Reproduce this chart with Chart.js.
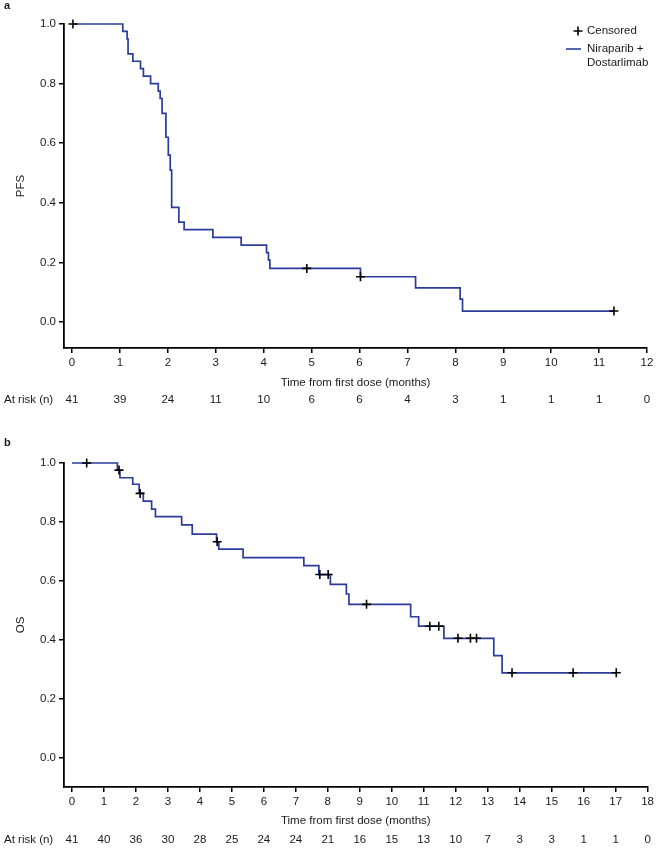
<!DOCTYPE html>
<html>
<head>
<meta charset="utf-8">
<script src="https://cdn.jsdelivr.net/npm/chart.js@4.4.1/dist/chart.umd.min.js"></script>
<style>
    html, body { margin: 0; padding: 0; background: #fff; }
    #wrap { position: relative; width: 657px; height: 849px; }
    .panel { position: absolute; left: 0; width: 657px; }
    #pa { top: 0; height: 412px; }
    #pb { top: 412px; height: 437px; }
</style>
</head>
<body>
<div id="wrap">
    <div class="panel" id="pa"><canvas id="pfsChart" width="657" height="412"></canvas></div>
    <div class="panel" id="pb"><canvas id="osChart" width="657" height="437"></canvas></div>
</div>
<script>
// === DATA ===
// a: PFS step curve (time in months, survival after the step)
const pfsTimes = [0, 1.06, 1.15, 1.17, 1.27, 1.43, 1.49, 1.64, 1.80, 1.84, 1.88, 1.96, 2.01, 2.05, 2.08, 2.23, 2.34, 2.94, 3.53, 4.06, 4.10, 4.13, 6.02, 7.17, 8.10, 8.15, 11.31];
const pfsSurv = [1, 0.975, 0.95, 0.90, 0.875, 0.85, 0.825, 0.80, 0.775, 0.75, 0.70, 0.62, 0.56, 0.51, 0.385, 0.335, 0.31, 0.284, 0.258, 0.233, 0.208, 0.18, 0.152, 0.115, 0.077, 0.037, 0.037];
const pfsCensorTimes = [0.02, 4.90, 6.02, 11.31];
const pfsCensorSurv = [1, 0.18, 0.152, 0.037];
const pfsTicks = [0, 1, 2, 3, 4, 5, 6, 7, 8, 9, 10, 11, 12];
const pfsAtRisk = [41, 39, 24, 11, 10, 6, 6, 4, 3, 1, 1, 1, 0];

// b: OS step curve
const osTimes = [0, 1.42, 1.50, 1.90, 2.10, 2.23, 2.49, 2.61, 3.43, 3.76, 4.52, 4.59, 5.35, 7.25, 7.72, 8.08, 8.58, 8.66, 10.59, 10.84, 11.63, 13.19, 13.45, 17.02];
const osSurv = [1, 0.976, 0.95, 0.928, 0.897, 0.871, 0.844, 0.818, 0.79, 0.759, 0.733, 0.708, 0.679, 0.652, 0.622, 0.589, 0.556, 0.521, 0.479, 0.447, 0.406, 0.347, 0.289, 0.289];
const osCensorTimes = [0.46, 1.47, 2.13, 4.54, 7.75, 8.01, 9.21, 11.19, 11.47, 12.07, 12.46, 12.65, 13.76, 15.67, 17.02];
const osCensorSurv = [1, 0.976, 0.897, 0.733, 0.622, 0.622, 0.521, 0.447, 0.447, 0.406, 0.406, 0.406, 0.289, 0.289, 0.289];
const osTicks = [0, 1, 2, 3, 4, 5, 6, 7, 8, 9, 10, 11, 12, 13, 14, 15, 16, 17, 18];
const osAtRisk = [41, 40, 36, 30, 28, 25, 24, 24, 21, 16, 15, 13, 10, 7, 3, 3, 1, 1, 0];

const yTicks = [0, 0.2, 0.4, 0.6, 0.8, 1.0];

// === STYLE ===
const FONT = "'Liberation Sans', Arial, Helvetica, sans-serif";
const BLUE = "#2b3c9b";
const TEXT = "#1a1a1a";

// Extra text: panel letter, at-risk row, legend
const kmText = {
    id: "kmText",
    afterDraw(chart, args, o) {
        const ctx = chart.ctx;
        const xs = chart.scales.x;
        ctx.save();
        ctx.fillStyle = TEXT;
        ctx.textBaseline = "middle";

        ctx.font = `bold 11px ${FONT}`;
        ctx.textAlign = "left";
        ctx.fillText(o.letter, 4, o.letterY);

        ctx.font = `11.5px ${FONT}`;
        ctx.fillText("At risk (n)", 4, o.riskY);
        ctx.textAlign = "center";
        o.ticks.forEach((t, i) => ctx.fillText(String(o.atRisk[i]), xs.getPixelForValue(t), o.riskY));

        if (o.legend) {
            ctx.textAlign = "left";
            // censor mark
            ctx.strokeStyle = "#000";
            ctx.lineWidth = 1.6;
            ctx.beginPath();
            ctx.moveTo(573.5, 31); ctx.lineTo(582.5, 31);
            ctx.moveTo(578, 26.5); ctx.lineTo(578, 35.5);
            ctx.stroke();
            ctx.fillText("Censored", 587, 31);
            // line sample
            ctx.strokeStyle = BLUE;
            ctx.beginPath();
            ctx.moveTo(566, 49); ctx.lineTo(581, 49);
            ctx.stroke();
            ctx.fillText("Niraparib +", 587, 49);
            ctx.fillText("Dostarlimab", 587, 63);
        }
        ctx.restore();
    },
};

function kmChart(id, cfg) {
    const line = cfg.times.map((t, i) => ({ x: t, y: cfg.surv[i] }));
    const cens = cfg.censT.map((t, i) => ({ x: t, y: cfg.censS[i] }));
    return new Chart(document.getElementById(id), {
        type: "scatter",
        data: {
            datasets: [
                {
                    label: "Niraparib + Dostarlimab",
                    data: line,
                    showLine: true,
                    stepped: "before",
                    borderColor: BLUE,
                    borderWidth: 1.7,
                    pointRadius: 0,
                    clip: false,
                    order: 2,
                },
                {
                    label: "Censored",
                    data: cens,
                    showLine: false,
                    pointStyle: "cross",
                    pointRadius: 4.5,
                    borderColor: "#000",
                    backgroundColor: "#000",
                    borderWidth: 1.6,
                    clip: false,
                    order: 1,
                },
            ],
        },
        options: {
            responsive: false,
            animation: false,
            events: [],
            layout: { padding: { top: cfg.padTop, left: 0, right: cfg.padRight, bottom: cfg.padBottom } },
            plugins: {
                legend: { display: false },
                tooltip: { enabled: false },
                kmText: {
                    letter: cfg.letter,
                    letterY: cfg.letterY,
                    riskY: cfg.riskY,
                    ticks: cfg.xTicks,
                    atRisk: cfg.atRisk,
                    legend: cfg.legend,
                },
            },
            scales: {
                x: {
                    type: "linear",
                    min: cfg.xMin,
                    max: cfg.xMax,
                    afterBuildTicks: (s) => { s.ticks = cfg.xTicks.map((v) => ({ value: v })); },
                    afterFit: (s) => { s.height = cfg.xHeight; },
                    grid: { drawOnChartArea: false, drawTicks: true, tickLength: 5, color: "#000", lineWidth: 1.5 },
                    border: { display: true, color: "#000", width: 1.8 },
                    ticks: { color: TEXT, font: { family: FONT, size: 11.5 }, padding: 3, maxRotation: 0, autoSkip: false },
                    title: {
                        display: true,
                        text: "Time from first dose (months)",
                        color: TEXT,
                        font: { family: FONT, size: 11.5 },
                        padding: { top: 0, bottom: 4 },
                    },
                },
                y: {
                    min: cfg.yMin,
                    max: 1,
                    afterBuildTicks: (s) => { s.ticks = yTicks.map((v) => ({ value: v })); },
                    afterFit: (s) => { s.width = 64; },
                    grid: { drawOnChartArea: false, drawTicks: true, tickLength: 5, color: "#000", lineWidth: 1.5 },
                    border: { display: true, color: "#000", width: 1.8 },
                    ticks: { color: TEXT, font: { family: FONT, size: 11.5 }, padding: 3, callback: (v) => Number(v).toFixed(1) },
                    title: {
                        display: true,
                        text: cfg.yLabel,
                        color: TEXT,
                        font: { family: FONT, size: 11.5 },
                        padding: { top: 14, bottom: 0 },
                    },
                },
            },
        },
        plugins: [kmText],
    });
}

// a: PFS
kmChart("pfsChart", {
    times: pfsTimes, surv: pfsSurv, censT: pfsCensorTimes, censS: pfsCensorSurv,
    xTicks: pfsTicks, atRisk: pfsAtRisk,
    xMin: -0.167, xMax: 12, yMin: -0.087,
    padTop: 24, padRight: 10, padBottom: 18, xHeight: 46,
    letter: "a", letterY: 6, riskY: 400, yLabel: "PFS", legend: true,
});

// b: OS
kmChart("osChart", {
    times: osTimes, surv: osSurv, censT: osCensorTimes, censS: osCensorSurv,
    xTicks: osTicks, atRisk: osAtRisk,
    xMin: -0.25, xMax: 18, yMin: -0.098,
    padTop: 51, padRight: 9, padBottom: 17, xHeight: 45,
    letter: "b", letterY: 31, riskY: 428, yLabel: "OS", legend: false,
});
</script>
</body>
</html>
